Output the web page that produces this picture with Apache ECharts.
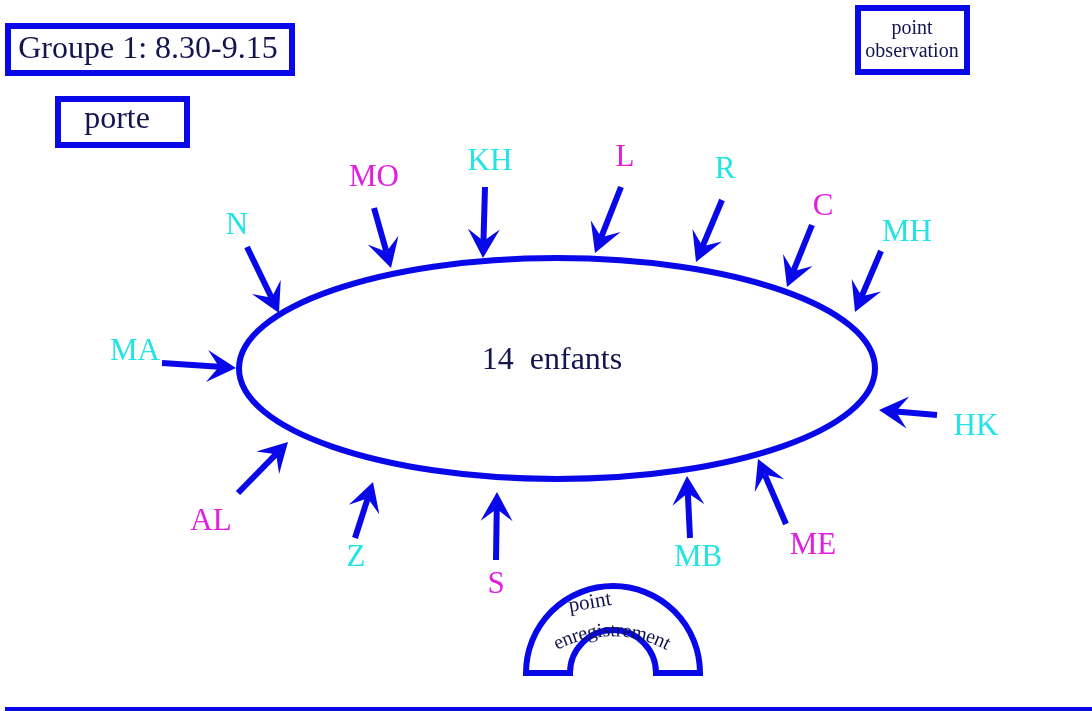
<!DOCTYPE html>
<html lang="fr">
  <head>
    <meta charset="UTF-8" />
    <title>Groupe 1</title>
    <script src="https://cdn.jsdelivr.net/npm/echarts@6.0.0/dist/echarts.min.js"></script>
    <style>
      body { margin: 0; background: #fff; }
      #main { width: 1092px; height: 711px; }
    </style>
  </head>
  <body>
    <div id="main"></div>
    <script>
      // enfants et flèches (coordonnées de la scène, 1 unité = 1 px)
      const names = ['N', 'MO', 'KH', 'L', 'R', 'C', 'MH', 'MA', 'HK', 'AL', 'Z', 'S', 'MB', 'ME']
      const kinds = ['c', 'm', 'c', 'm', 'c', 'm', 'c', 'c', 'c', 'm', 'c', 'm', 'c', 'm']
      const tails = [[247, 247], [374, 208], [485, 187], [621, 187], [722, 200], [812, 225], [881, 251],
                     [162, 363], [937, 415], [238, 493], [355, 538], [496, 560], [690, 538], [786, 524]]
      const tips = [[279, 313], [391, 268], [483, 258], [595, 253], [696, 262], [787, 287], [855, 312],
                    [236, 368], [879, 410], [288, 442], [373, 482], [497, 492], [687, 476], [758, 459]]
      const labelAt = [[237, 226], [374, 178], [490, 162], [625, 158], [725, 170], [823, 207], [907, 233],
                       [135, 352], [976, 427], [211, 522], [356, 558], [496, 585], [698, 558], [813, 546]]
      // cercle des enfants: centre x, centre y, rayon x, rayon y
      const circle = [[557, 368.5, 318, 110.5]]
      const title = 'Groupe 1: 8.30-9.15'
      const centerText = '14  enfants'

      const BLUE = '#0808e8'
      const INK = '#14144e'
      const colors = { c: '#22e3e6', m: '#e21ee0' }
      const SERIF = '"Liberation Serif", "DejaVu Serif", serif'

      const chart = echarts.init(document.getElementById('main'))

      function renderArrow(params, api) {
        const i = params.dataIndex
        const a = api.coord([api.value(0), api.value(1)])
        const b = api.coord([api.value(2), api.value(3)])
        const l = api.coord([api.value(4), api.value(5)])
        const dx = b[0] - a[0]
        const dy = b[1] - a[1]
        const len = Math.sqrt(dx * dx + dy * dy)
        const ux = dx / len, uy = dy / len
        const px = -uy, py = ux
        const headL = 29, headW = 16, notch = 12
        const base = [b[0] - ux * headL, b[1] - uy * headL]
        const neck = [b[0] - ux * (headL - notch), b[1] - uy * (headL - notch)]
        return {
          type: 'group',
          children: [
            {
              type: 'line',
              shape: { x1: a[0], y1: a[1], x2: neck[0], y2: neck[1] },
              style: { stroke: BLUE, lineWidth: 6 }
            },
            {
              type: 'polygon',
              shape: {
                points: [b, [base[0] + px * headW, base[1] + py * headW], neck,
                         [base[0] - px * headW, base[1] - py * headW]]
              },
              style: { fill: BLUE }
            },
            {
              type: 'text',
              x: l[0],
              y: l[1],
              style: {
                text: names[i],
                fill: colors[kinds[i]],
                font: '31px ' + SERIF,
                align: 'center',
                verticalAlign: 'middle'
              }
            }
          ]
        }
      }

      function renderCircle(params, api) {
        const c = api.coord([api.value(0), api.value(1)])
        const s = api.size([api.value(2), api.value(3)])
        return {
          type: 'ellipse',
          shape: { cx: c[0], cy: c[1], rx: s[0], ry: s[1] },
          style: { fill: 'none', stroke: BLUE, lineWidth: 6 }
        }
      }

      // "enregistrement" écrit en arc
      function arcText(text, cx, cy, r, midAngle, font) {
        const ctx = document.createElement('canvas').getContext('2d')
        ctx.font = font
        const widths = text.split('').map(ch => ctx.measureText(ch).width)
        const total = widths.reduce((s, w) => s + w, 0)
        let ang = midAngle - total / 2 / r
        const out = []
        text.split('').forEach((ch, k) => {
          const t = ang + widths[k] / 2 / r
          out.push({
            type: 'text',
            x: cx + r * Math.sin(t),
            y: cy - r * Math.cos(t),
            rotation: -t,
            z: 20,
            style: { text: ch, font: font, fill: INK, align: 'center', verticalAlign: 'middle' }
          })
          ang += widths[k] / r
        })
        return out
      }

      const arrowData = names.map((n, i) => [tails[i][0], tails[i][1], tips[i][0], tips[i][1], labelAt[i][0], labelAt[i][1]])

      const box = (x, y, w, h) => ({
        type: 'rect',
        shape: { x: x, y: y, width: w, height: h },
        style: { fill: '#fff', stroke: BLUE, lineWidth: 6 }
      })
      const label = (x, y, text, size) => ({
        type: 'text',
        x: x,
        y: y,
        z: 10,
        style: { text: text, font: size + 'px ' + SERIF, fill: INK, align: 'center', verticalAlign: 'middle' }
      })

      chart.setOption({
        backgroundColor: '#fff',
        animation: false,
        grid: { left: 0, right: 0, top: 0, bottom: 0 },
        xAxis: { type: 'value', min: 0, max: 1092, show: false },
        yAxis: { type: 'value', min: 0, max: 711, inverse: true, show: false },
        graphic: [
          box(8, 26, 284, 47),
          label(148, 50, title, 32),
          box(58, 99, 129, 46),
          label(117, 120, 'porte', 32),
          box(858, 8, 109, 64),
          label(912, 29, 'point', 20),
          label(912, 52, 'observation', 20),
          label(552, 361, centerText, 32),
          {
            type: 'sector',
            shape: { cx: 613, cy: 673, r: 87, r0: 43, startAngle: Math.PI, endAngle: 2 * Math.PI },
            style: { fill: '#fff', stroke: BLUE, lineWidth: 6 }
          },
          {
            type: 'text',
            x: 590,
            y: 603,
            rotation: 0.17,
            z: 20,
            style: { text: 'point', font: '21px ' + SERIF, fill: INK, align: 'center', verticalAlign: 'middle' }
          },
          ...arcText('enregistrement', 612, 751, 120, 0, '20px ' + SERIF),
          {
            type: 'line',
            shape: { x1: 5, y1: 709, x2: 1092, y2: 709 },
            style: { stroke: BLUE, lineWidth: 4 }
          }
        ],
        series: [
          {
            type: 'custom',
            name: 'cercle',
            renderItem: renderCircle,
            data: circle,
            silent: true
          },
          {
            type: 'custom',
            name: 'enfants',
            renderItem: renderArrow,
            data: arrowData,
            silent: true
          }
        ]
      })
    </script>
  </body>
</html>
